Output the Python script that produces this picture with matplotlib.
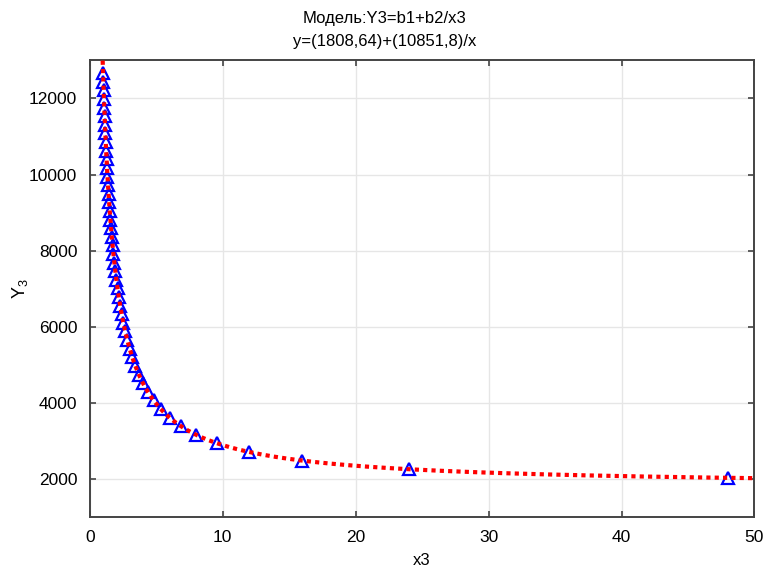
import numpy as np
import matplotlib
matplotlib.use("Agg")
import matplotlib.pyplot as plt

# observed points (x3, Y3)
x3 = [48.0, 24.0, 16.0, 12.0, 9.6, 8.0, 6.857, 6.0, 5.333, 4.8,
      4.364, 4.0, 3.692, 3.429, 3.2, 3.0, 2.824, 2.667, 2.526, 2.4,
      2.286, 2.182, 2.087, 2.0, 1.92, 1.846, 1.778, 1.714, 1.655, 1.6,
      1.548, 1.5, 1.455, 1.412, 1.371, 1.333, 1.297, 1.263, 1.231, 1.2,
      1.171, 1.143, 1.116, 1.091, 1.067, 1.043, 1.021, 1.0]
y3 = [2035, 2261, 2487, 2713, 2939, 3165, 3391, 3617, 3843, 4069,
      4295, 4522, 4748, 4974, 5200, 5426, 5652, 5878, 6104, 6330,
      6556, 6782, 7008, 7234, 7461, 7687, 7913, 8139, 8365, 8591,
      8817, 9043, 9269, 9495, 9721, 9947, 10173, 10400, 10626, 10852,
      11078, 11304, 11530, 11756, 11982, 12208, 12434, 12660]

# fitted model coefficients
b1 = 1808.64
b2 = 10851.8

plt.rcParams["font.family"] = ["Liberation Sans", "DejaVu Sans"]
plt.rcParams["mathtext.default"] = "regular"

fig = plt.figure(figsize=(7.64, 5.69), dpi=100)
ax = fig.add_axes([0.1175, 0.091, 0.870, 0.803])

ax.plot(x3, y3, linestyle="none", marker="^", markersize=9,
        markerfacecolor="none", markeredgecolor="#0000ff", markeredgewidth=1.6,
        zorder=3)

xs = np.linspace(0.9, 50, 600)
ax.plot(xs, b1 + b2 / xs, color="#ff0000", linewidth=3,
        linestyle=(0, (1, 1)), zorder=4)

ax.set_xlim(0, 50)
ax.set_ylim(1000, 13000)
ax.set_xticks([0, 10, 20, 30, 40, 50])
ax.set_yticks([2000, 4000, 6000, 8000, 10000, 12000])
ax.tick_params(direction="in", length=4, width=1.2, labelsize=12.5,
               top=True, right=True, color="#444444", pad=9)
ax.grid(True, color="#e6e6e6", linewidth=1)
for s in ax.spines.values():
    s.set_color("#444444")
    s.set_linewidth(1.4)

ax.set_xlabel("x3", fontsize=12, labelpad=6)
ax.set_ylabel("Y$_3$", fontsize=13, labelpad=-1)

fig.text(0.503, 0.968, "Модель:Y3=b1+b2/x3", ha="center", va="center", fontsize=12)
fig.text(0.503, 0.927, "y=(1808,64)+(10851,8)/x", ha="center", va="center", fontsize=12)

fig.savefig("out.png", dpi=100)
